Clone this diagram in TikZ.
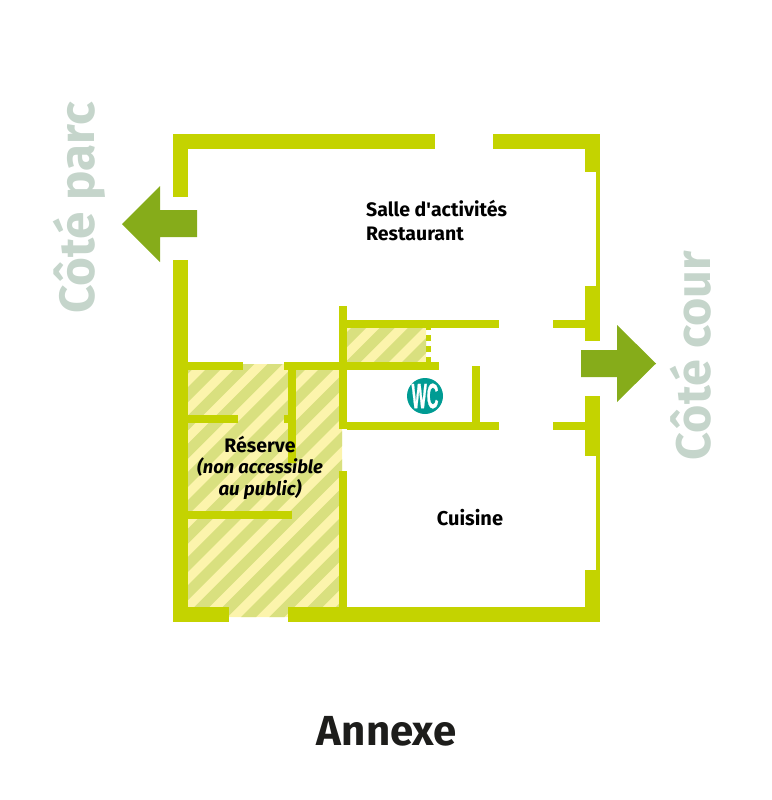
\documentclass[tikz,border=0pt]{standalone}
\usepackage{fontspec}
\setmainfont{Fira Sans}
\newfontfamily\nomapfont{Fira Sans}
\newfontfamily\wcfont[BoldFeatures={FakeBold=1.2}]{Liberation Sans}
\definecolor{wall}{HTML}{C4D300}
\definecolor{arrowg}{HTML}{86AC1A}
\definecolor{sidetxt}{HTML}{C5D5CB}
\definecolor{hatchA}{HTML}{FCF4AC}
\definecolor{hatchB}{HTML}{D9E07F}
\definecolor{teal}{HTML}{009B93}
\definecolor{ink}{HTML}{1D1D1B}
\tikzset{
  wallpart/.style={fill=wall,draw=none},
  arrowpart/.style={fill=arrowg,draw=none},
  side/.style={text=sidetxt,font=\fontsize{49.5}{49.5}\selectfont\bfseries,rotate=90,inner sep=0pt},
  room/.style={text=black,font=\fontsize{19.5}{23.5}\selectfont\fontseries{sb}\selectfont,align=left,inner sep=0pt},
}
% #1: x of the first stripe's lower edge at y=640
\newcommand{\stripes}[1]{%
  \fill[hatchA] (180,300) rectangle (440,630);
  \foreach \k in {-12,...,16}{
    \fill[hatchB] ({#1+\k*28.3},640) -- ({#1+15+\k*28.3},640) -- ({#1+375+\k*28.3},280) -- ({#1+360+\k*28.3},280) -- cycle;
  }}
\begin{document}
\begin{tikzpicture}[x=1pt,y=-1pt]
\useasboundingbox (0,0) rectangle (771,800);
% hatched areas
\begin{scope}
  \clip (188,364) rectangle (342,607) (229,600) rectangle (288,617);
  \stripes{218}
\end{scope}
\begin{scope}
  \clip (347,328) rectangle (426,362);
  \stripes{209}
\end{scope}
% walls
\fill[wallpart] (173,134) rectangle (435,149);
\fill[wallpart] (493,134) rectangle (600,149);
\fill[wallpart] (173,134) rectangle (188,197);
\fill[wallpart] (173,260) rectangle (188,622);
\fill[wallpart] (173,607) rectangle (229,622);
\fill[wallpart] (288,607) rectangle (600,622);
\fill[wallpart] (585,134) rectangle (600,172);
\fill[wallpart] (596,172) rectangle (600,286);
\fill[wallpart] (585,286) rectangle (600,341);
\fill[wallpart] (585,396) rectangle (600,456);
\fill[wallpart] (596,456) rectangle (600,570);
\fill[wallpart] (585,570) rectangle (600,622);
\fill[wallpart] (553,320) rectangle (585,328);
\fill[wallpart] (553,422) rectangle (585,430);
\fill[wallpart] (188,362) rectangle (243,370);
\fill[wallpart] (284,362) rectangle (439,370);
\fill[wallpart] (288,370) rectangle (296,463);
\fill[wallpart] (284,415) rectangle (288,423);
\fill[wallpart] (188,415) rectangle (238,423);
\fill[wallpart] (188,511) rectangle (292,519);
\fill[wallpart] (339,306) rectangle (347,429);
\fill[wallpart] (339,471) rectangle (347,607);
\fill[wallpart] (347,320) rectangle (499,328);
\fill[wallpart] (347,422) rectangle (499,430);
\fill[wallpart] (472,366) rectangle (480,422);
\fill[wallpart] (426,328) rectangle (431,330);
\fill[wallpart] (426,335) rectangle (431,341);
\fill[wallpart] (426,346) rectangle (431,352);
\fill[wallpart] (426,357) rectangle (431,362);
% arrows
\fill[arrowpart] (122,224) -- (160,186) -- (160,210) -- (197,210) -- (197,237) -- (160,237) -- (160,262) -- cycle;
\fill[arrowpart] (656,363.5) -- (617,325) -- (617,350) -- (581,350) -- (581,377) -- (617,377) -- (617,402) -- cycle;
% WC
\node[circle,fill=teal,minimum size=36pt,inner sep=0pt] (wc) at (425,396) {};
\node[text=white,inner sep=0pt,font=\fontsize{35}{35}\wcfont\bfseries] (wct) at (425,396) {\scalebox{.46}[1]{WC}};
% labels
\node[side,anchor=center] (parc) at (79,208) {Côté parc};
\node[side,font=\fontsize{48.5}{48.5}\selectfont\bfseries,anchor=center] (cour) at (691,355.5) {Côté cour};
\node[room,anchor=north west] (salle) at (366,200.5) {Salle d{\nomapfont\fontseries{sb}\selectfont\symbol{39}}activités\\Restaurant};
\node[room,font=\fontsize{20}{24}\selectfont\fontseries{sb}\selectfont,anchor=center] (cuisine) at (470,518) {Cuisine};
\node[room,align=center,anchor=north] (reserve) at (260,436) {Réserve\\[-2pt]{\fontsize{18.3}{21.5}\selectfont\itshape (non accessible}\\[-2pt]{\fontsize{18.7}{21.5}\selectfont\itshape au public)}};
\node[text=ink,font=\fontsize{42}{42}\selectfont\bfseries,inner sep=0pt] (annexe) at (387,731) {Annexe};
\end{tikzpicture}
\end{document}
